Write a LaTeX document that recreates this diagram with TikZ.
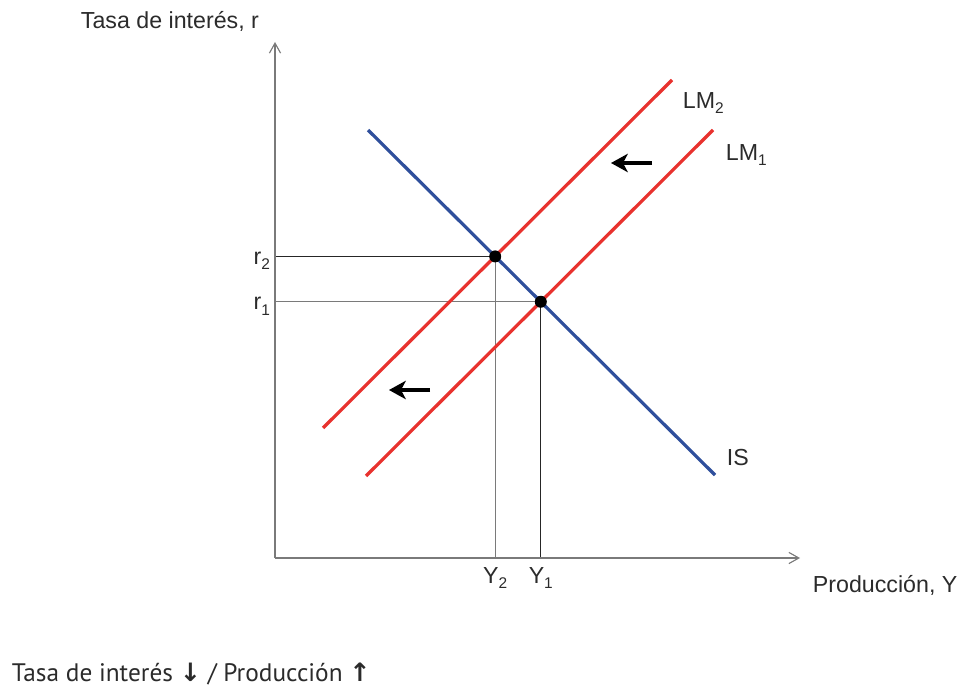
\documentclass[tikz,border=0pt]{standalone}
\usepackage{fontspec}
\setmainfont{Liberation Sans}
\newfontfamily\pie{PT Sans}
\newfontfamily\flecha{DejaVu Sans}
\usetikzlibrary{arrows.meta}
\definecolor{rojo}{HTML}{E8322E}
\definecolor{azul}{HTML}{2F4F9C}
\definecolor{gris}{HTML}{7A7A7A}
\definecolor{tinta}{HTML}{2B2B2B}
\newcommand{\idx}[1]{\raisebox{-0.45ex}{\fontsize{11}{12}\selectfont #1}}

\begin{document}
\begin{tikzpicture}[x=0.025cm, y=-0.025cm, font=\fontsize{16.5}{19}\selectfont, text=tinta,
      eje/.style={draw=gris, line width=0.8pt, -{Straight Barb[length=2.5mm, width=2.8mm]}},
      curva/.style={line width=2.3pt},
      guia/.style={line width=0.6pt},
      desp/.style={line width=2.8pt, -{Stealth[length=4.2mm, width=4.6mm, inset=1.2mm]}},
      punto/.style={circle, fill=black, inner sep=0pt, minimum size=3mm}]
    \useasboundingbox (0,0) rectangle (970,695);
    \coordinate (O) at (275,558);
    \coordinate (ytop) at (275,42);
    \coordinate (xend) at (800,558);
    \coordinate (is1) at (368,130);  \coordinate (is2) at (715,475);
    \coordinate (lmb1) at (323,428); \coordinate (lmb2) at (672,80);
    \coordinate (lma1) at (366,476); \coordinate (lma2) at (713,130);
    \coordinate (E2) at (intersection of is1--is2 and lmb1--lmb2);
    \coordinate (E1) at (intersection of is1--is2 and lma1--lma2);
    \draw[guia, black!85] (E2) -- (O |- E2); \draw[guia, gris] (E2) -- (E2 |- O);
    \draw[guia, gris] (E1) -- (O |- E1);     \draw[guia, black!85] (E1) -- (E1 |- O);
    \draw[eje] (O) -- (ytop);
    \draw[eje] (O) -- (xend);
    \draw[curva, rojo] (lmb1) -- (lmb2);
    \draw[curva, rojo] (lma1) -- (lma2);
    \draw[curva, azul] (is1) -- (is2);
    \node[punto] (p2) at (E2) {};
    \node[punto] (p1) at (E1) {};
    \coordinate (a1) at (652,163); \coordinate (b1) at (611,163);
    \coordinate (a2) at (430,390); \coordinate (b2) at (389,390);
    \draw[desp] (a1) -- (b1);
    \draw[desp] (a2) -- (b2);
    \node[left, yshift=-3pt] (r2) at (O |- E2) {r\idx{2}};
    \node[left, yshift=-3pt] (r1) at (O |- E1) {r\idx{1}};
    \node[below=3pt] (y2) at (E2 |- O) {Y\idx{2}};
    \node[below=3pt] (y1) at (E1 |- O) {Y\idx{1}};
    \node[anchor=west] (lm2) at (678,103) {LM\idx{2}};
    \node[anchor=west] (lm1) at (721,155) {LM\idx{1}};
    \node[anchor=west] (is) at (722,458) {IS};
    \node[anchor=west] (ejey) at (76,21) {Tasa de interés, r};
    \node[anchor=west] (ejex) at (808,585) {Producción, Y};
    \node[anchor=base west, font=\pie\fontsize{18}{22}\selectfont] (leyenda) at (7,681)
      {Tasa de interés {\flecha\bfseries ↓} / Producción {\flecha\bfseries ↑}};
  \end{tikzpicture}
\end{document}
